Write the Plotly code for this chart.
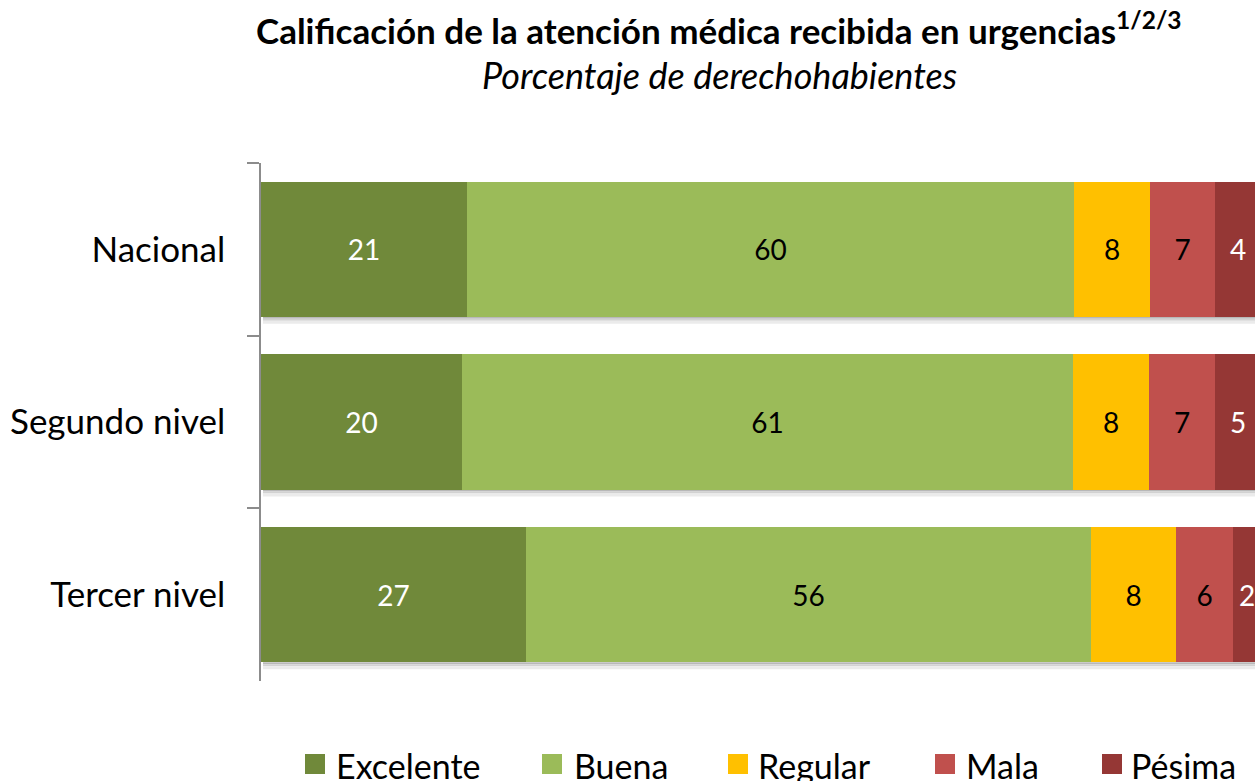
import plotly.graph_objects as go

# ---- data ----
categories = ["Nacional", "Segundo nivel", "Tercer nivel"]
series_names = ["Excelente", "Buena", "Regular", "Mala", "Pésima"]
excelente = [20.6, 20.1, 26.5]
buena = [60.7, 61.1, 56.5]
regular = [7.6, 7.6, 8.5]
mala = [6.5, 6.6, 5.7]
pesima = [4.6, 4.6, 2.8]
# displayed (rounded) labels
lbl_excelente = [21, 20, 27]
lbl_buena = [60, 61, 56]
lbl_regular = [8, 8, 8]
lbl_mala = [7, 7, 6]
lbl_pesima = [4, 5, 2]

values = [excelente, buena, regular, mala, pesima]
labels = [lbl_excelente, lbl_buena, lbl_regular, lbl_mala, lbl_pesima]
colors = ["#70893A", "#9BBB59", "#FFC000", "#C0504D", "#953735"]
text_colors = ["white", "black", "black", "black", "white"]

FONT = "Lato"
W, H = 1255, 781
# plot area in page pixels
PL, PR, PT, PB = 261, 1255, 163, 681
ML, MT, MR, MB = PL, PT, W - PR, H - PB
PW, PH = PR - PL, PB - PT
BARGAP = 0.218


def px_x(px):
    return (px - PL) / PW


def px_y(py):
    return (PB - py) / PH


fig = go.Figure()
for name, vals, lbls, col, tc in zip(series_names, values, labels, colors, text_colors):
    fig.add_trace(go.Bar(
        y=categories, x=vals, name=name, orientation="h",
        marker=dict(color=col, line=dict(width=0)),
        text=[str(v) for v in lbls], textposition="inside",
        insidetextanchor="middle", textangle=0,
        textfont=dict(family=FONT, size=28, color=tc),
        showlegend=False, hoverinfo="x+y+name",
    ))

fig.update_layout(
    barmode="stack", bargap=BARGAP,
    width=W, height=H,
    margin=dict(l=ML, r=MR, t=MT, b=MB, pad=0),
    paper_bgcolor="white", plot_bgcolor="white",
    font=dict(family=FONT, color="black"),
    uniformtext=dict(minsize=10, mode="show"),
    xaxis=dict(range=[0, 99.4], visible=False, showgrid=False, zeroline=False),
    yaxis=dict(autorange="reversed", showline=True, linecolor="#8C8C8C", linewidth=1.5,
               ticks="outside", tickson="boundaries", ticklen=12, tickcolor="#8C8C8C",
               tickwidth=1.5, showgrid=False,
               tickfont=dict(family=FONT, size=35, color="black"),
               ticklabelstandoff=27),
)

# soft shadow under each bar (decoration)
half = (1 - BARGAP) / 2
unit_px = PH / len(categories)
shadow_bands = [(0, 2, "#b8b8b8"), (2, 4, "#d2d2d2"), (4, 7, "#ebebeb")]
for i, _ in enumerate(categories):
    for a, b, c in shadow_bands:
        fig.add_shape(type="rect", xref="x", yref="y", layer="below",
                      x0=0.2, x1=100, y0=i + half + a / unit_px, y1=i + half + b / unit_px,
                      fillcolor=c, line=dict(width=0))

# title + subtitle
fig.add_annotation(x=px_x(719), y=px_y(28), xref="paper", yref="paper",
                   text="<b>Calificación de la atención médica recibida en urgencias<sup>1/2/3</sup></b>",
                   showarrow=False, font=dict(family=FONT, size=35, color="black"),
                   xanchor="center", yanchor="middle")
fig.add_annotation(x=px_x(719), y=px_y(75), xref="paper", yref="paper",
                   text="<i>Porcentaje de derechohabientes</i>",
                   showarrow=False, font=dict(family=FONT, size=36, color="black"),
                   xanchor="center", yanchor="middle")

# custom legend
legend_marker_x = [305, 542, 728, 935, 1102]
legend_text_x = [334, 572, 756, 964, 1129]
for name, col, mx, tx in zip(series_names, colors, legend_marker_x, legend_text_x):
    fig.add_shape(type="rect", xref="paper", yref="paper",
                  x0=px_x(mx), x1=px_x(mx + 20), y0=px_y(774), y1=px_y(754),
                  fillcolor=col, line=dict(width=0))
    fig.add_annotation(x=px_x(tx), y=px_y(765), xref="paper", yref="paper",
                       text=name, showarrow=False,
                       font=dict(family=FONT, size=34, color="black"),
                       xanchor="left", yanchor="middle")

fig.write_html(
    "out.html",
    config={"displayModeBar": False},
    post_script="document.body.style.margin='0';document.body.style.overflow='hidden';",
)
